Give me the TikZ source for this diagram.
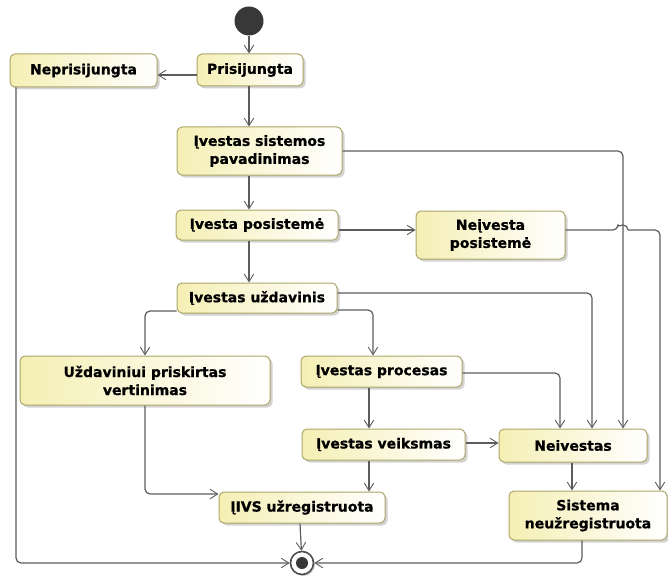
\documentclass[tikz,border=0pt]{standalone}
\usepackage{fontspec}
\setmainfont{DejaVu Sans}[BoldFeatures={FakeBold=0.8}]
\usetikzlibrary{arrows.meta,shadows,calc}

\definecolor{stfill}{HTML}{F5EFB4}
\definecolor{stline}{HTML}{ABA668}
\definecolor{flow}{HTML}{5C5C5C}

\tikzset{
  state/.style={draw=stline, line width=1pt, rounded corners=5pt,
    left color=stfill, right color=white, inner sep=0pt,
    font=\bfseries\fontsize{14}{18}\selectfont, align=center,
    drop shadow={shadow xshift=2.5pt, shadow yshift=-2.5pt, opacity=0.35, fill=gray}},
  flowline/.style={draw=flow, line width=1.2pt, rounded corners=5pt,
    -{Straight Barb[angle=64:9pt, line width=0.9pt]}},
  plainline/.style={draw=flow, line width=1.2pt, rounded corners=5pt},
}

\begin{document}
\begin{tikzpicture}[x=1pt, y=-1pt]
\useasboundingbox (0,0) rectangle (668,580);

% initial and final pseudo-states
\node[circle, fill=black!78, minimum size=29pt, inner sep=0pt] (start) at (249,21) {};
\node[circle, draw=black!70, line width=1.6pt, fill=white, minimum size=23pt, inner sep=0pt,
      drop shadow={shadow xshift=1.5pt, shadow yshift=-1.5pt, opacity=0.35, fill=gray}] (end) at (302,563) {};
\fill[black!78] (end.center) circle[radius=6pt];

% states
\node[state, minimum width=106pt, minimum height=32pt] (pris)   at (250,70)    {Prisijungta};
\node[state, minimum width=147pt, minimum height=33pt] (nepr)   at (83.5,70.5) {Neprisijungta};
\node[state, minimum width=165pt, minimum height=48pt] (sist)   at (259.5,151) {Įvestas sistemos\\pavadinimas};
\node[state, minimum width=162pt, minimum height=30pt] (posi)   at (257,225)   {Įvesta posistemė};
\node[state, minimum width=149pt, minimum height=48pt] (neposi) at (490.5,235)  {Neįvesta\\posistemė};
\node[state, minimum width=160pt, minimum height=30pt] (uzd)    at (257,298)   {Įvestas uždavinis};
\node[state, minimum width=250pt, minimum height=49pt] (vert)   at (145,380.5) {Uždaviniui priskirtas\\vertinimas};
\node[state, minimum width=161pt, minimum height=31pt] (proc)   at (381.5,371.5) {Įvestas procesas};
\node[state, minimum width=163pt, minimum height=31pt] (veik)   at (383.5,444.5) {Įvestas veiksmas};
\node[state, minimum width=148pt, minimum height=33pt] (neiv)   at (573,445.5) {Neivestas};
\node[state, minimum width=166pt, minimum height=31pt] (ivs)    at (302,507.5) {ĮIVS užregistruota};
\node[state, minimum width=158pt, minimum height=49pt] (sist2)  at (588,515.5) {Sistema\\neužregistruota};

% transitions
\draw[flowline] (start) -- (start |- pris.north);
\draw[flowline] ([yshift=-5pt]pris.west) -- ([yshift=-4.5pt]nepr.east);
\draw[flowline] (pris.south -| start) -- (start |- sist.north);
\draw[flowline] (sist.south -| start) -- (start |- posi.north);
\draw[flowline] ([yshift=-5pt]posi.east) -- ([yshift=5pt]neposi.west);
\draw[flowline] (posi.south -| start) -- (start |- uzd.north);

\draw[flowline] ([yshift=5pt]uzd.east) -| ([xshift=19pt]neiv.north);
\draw[flowline] ([yshift=-12pt]uzd.east) -| ([xshift=-8.5pt]proc.north);
\draw[flowline] ([yshift=-13pt]uzd.west) -| (vert.north);

% long line from the system name down to "Neivestas"
\coordinate (vx) at ([xshift=50pt]neiv.north);
\draw[flowline] (sist.east) -| (vx);

% "Neivesta posisteme" to "Sistema neuzregistruota", hopping over the line above
\coordinate (np) at ([yshift=5pt]neposi.east);
\coordinate (hopC) at (np -| vx);
\draw[plainline] (np) -- ([xshift=-5pt]hopC) arc[start angle=180, end angle=0, radius=5pt] coordinate (hopR);
\draw[flowline] (hopR) -| ([xshift=72pt]sist2.north);

\draw[flowline] ([yshift=-1.5pt]proc.east) -| ([xshift=-13pt]neiv.north);
\draw[flowline] ([xshift=-12.5pt]proc.south) -- ([xshift=-12.5pt]proc.south |- veik.north);
\draw[flowline] ([yshift=1.5pt]veik.east) -- ([yshift=1.5pt]veik.east -| neiv.west);
\draw[flowline] ([xshift=-14.5pt]veik.south) -- ([xshift=-14.5pt]veik.south |- ivs.north);
\draw[flowline] (vert.south) |- ([yshift=13.5pt]ivs.west);
\draw[flowline] ([xshift=-1pt]neiv.south) -- ([xshift=-1pt]neiv.south |- sist2.north);

\draw[flowline] ([xshift=-2pt]ivs.south) -- (end);
\draw[flowline] ([xshift=-67.5pt]nepr.south) |- (end.west);
\draw[flowline] ([xshift=-6pt]sist2.south) |- (end.east);
\end{tikzpicture}
\end{document}
